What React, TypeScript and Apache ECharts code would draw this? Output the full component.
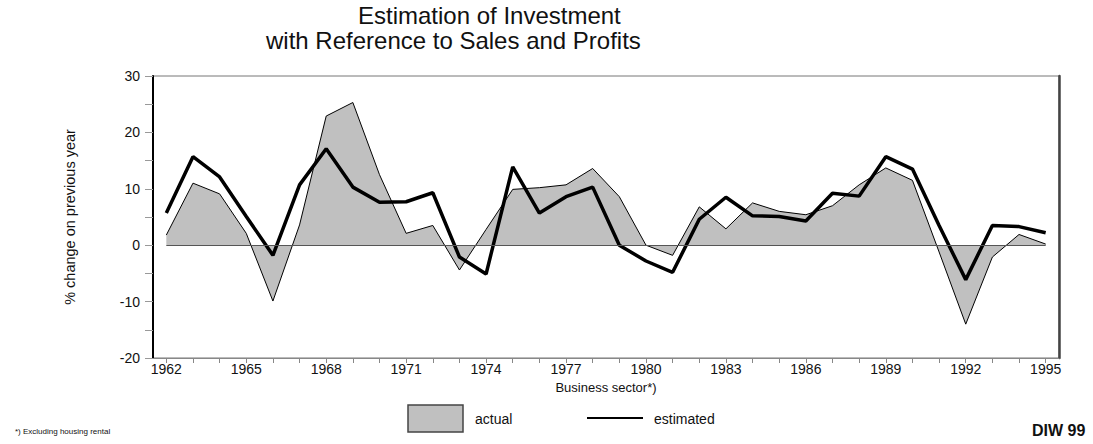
import React, { useEffect, useRef } from "react";
import * as echarts from "echarts";

const years = [
  "1962", "1963", "1964", "1965", "1966", "1967", "1968", "1969", "1970", "1971",
  "1972", "1973", "1974", "1975", "1976", "1977", "1978", "1979", "1980", "1981",
  "1982", "1983", "1984", "1985", "1986", "1987", "1988", "1989", "1990", "1991",
  "1992", "1993", "1994", "1995",
];

const actual = [
  1.8, 11.0, 9.1, 2.1, -9.9, 3.6, 22.9, 25.3, 12.5, 2.1,
  3.5, -4.4, 2.8, 9.9, 10.2, 10.7, 13.6, 8.6, 0.0, -1.8,
  6.8, 2.9, 7.5, 6.0, 5.4, 7.0, 10.7, 13.7, 11.5, -1.2,
  -14.0, -2.1, 1.9, 0.2,
];

const estimated = [
  5.7, 15.7, 12.1, 5.1, -1.8, 10.7, 17.1, 10.3, 7.6, 7.7,
  9.3, -2.1, -5.1, 13.9, 5.7, 8.6, 10.3, 0.0, -2.8, -4.8,
  4.6, 8.5, 5.2, 5.1, 4.3, 9.2, 8.7, 15.7, 13.5, 3.5,
  -6.1, 3.5, 3.3, 2.2,
];

const titleLines = ["Estimation of Investment", "with Reference to Sales and Profits"];
const seriesNames = ["actual", "estimated"];
const yAxisTitle = "% change on previous year";
const xAxisTitle = "Business sector*)";
const footnote = "*) Excluding housing rental";
const sourceMark = "DIW 99";

const FONT = "'Liberation Sans', Arial, Helvetica, sans-serif";
const TXT = "#111";

export default function App() {
  const ref = useRef<HTMLDivElement>(null);

  useEffect(() => {
    if (!ref.current) return;
    const chart = echarts.init(ref.current, null, { renderer: "svg" });
    chart.setOption({
      animation: false,
      backgroundColor: "#fff",
      textStyle: { fontFamily: FONT, color: TXT },
      grid: {
        left: 153,
        right: 34,
        top: 76,
        bottom: 86,
        show: true,
        borderColor: "#777",
        borderWidth: 1,
      },
      xAxis: {
        type: "category",
        data: years,
        boundaryGap: true,
        name: xAxisTitle,
        nameLocation: "middle",
        nameGap: 21,
        nameTextStyle: { fontFamily: FONT, fontSize: 13, color: TXT },
        axisLine: { show: true, onZero: false, lineStyle: { color: "#888", width: 1 } },
        axisTick: { show: true, interval: 0, alignWithLabel: true, length: 5, lineStyle: { color: "#888" } },
        axisLabel: { interval: 2, fontFamily: FONT, fontSize: 14, color: TXT, margin: 4 },
        splitLine: { show: false },
      },
      yAxis: [
        {
          type: "value",
          min: -20,
          max: 30,
          interval: 10,
          name: yAxisTitle,
          nameLocation: "middle",
          nameGap: 76,
          nameTextStyle: { fontFamily: FONT, fontSize: 14.5, color: TXT },
          axisLine: { show: true, lineStyle: { color: "#000", width: 2 } },
          axisTick: { show: true, length: 8, lineStyle: { color: "#999" } },
          minorTick: { show: true, splitNumber: 2, length: 8, lineStyle: { color: "#999" } },
          axisLabel: { fontFamily: FONT, fontSize: 14, color: TXT, margin: 13 },
          splitLine: { show: false },
        },
        {
          type: "value",
          position: "right",
          min: -20,
          max: 30,
          interval: 10,
          axisLine: { show: true, lineStyle: { color: "#444", width: 2.5 } },
          axisTick: { show: false },
          axisLabel: { show: false },
          splitLine: { show: false },
        },
      ],
      series: [
        {
          name: seriesNames[0],
          type: "line",
          data: actual,
          symbol: "none",
          lineStyle: { color: "#000", width: 1 },
          areaStyle: { color: "#c0c0c0", opacity: 1 },
          z: 2,
          markLine: {
            silent: true,
            symbol: "none",
            label: { show: false },
            lineStyle: { color: "#555", width: 1, type: "solid" },
            data: [[{ coord: [years[0], 0] }, { coord: [years[years.length - 1], 0] }]],
          },
        },
        {
          name: seriesNames[1],
          type: "line",
          data: estimated,
          symbol: "none",
          lineStyle: { color: "#000", width: 3.5 },
          z: 3,
        },
      ],
      graphic: [
        {
          type: "text",
          left: 358,
          top: 3,
          style: { text: titleLines[0], font: `24px ${FONT}`, fill: TXT },
        },
        {
          type: "text",
          left: 266,
          top: 28,
          style: { text: titleLines[1], font: `24px ${FONT}`, fill: TXT },
        },
        {
          type: "rect",
          shape: { x: 408, y: 405, width: 55, height: 27 },
          style: { fill: "#c0c0c0", stroke: "#444", lineWidth: 1.5 },
        },
        {
          type: "text",
          x: 475,
          y: 419,
          style: { text: seriesNames[0], font: `14px ${FONT}`, fill: TXT, verticalAlign: "middle" },
        },
        {
          type: "line",
          shape: { x1: 587, y1: 418, x2: 643, y2: 418 },
          style: { stroke: "#000", lineWidth: 2 },
        },
        {
          type: "text",
          x: 654,
          y: 419,
          style: { text: seriesNames[1], font: `14px ${FONT}`, fill: TXT, verticalAlign: "middle" },
        },
        {
          type: "text",
          x: 15,
          y: 431,
          style: { text: footnote, font: `8px ${FONT}`, fill: TXT, verticalAlign: "middle" },
        },
        {
          type: "text",
          x: 1032,
          y: 430,
          style: { text: sourceMark, font: `bold 16px ${FONT}`, fill: TXT, verticalAlign: "middle" },
        },
      ],
    });
    return () => chart.dispose();
  }, []);

  return (
    <div
      ref={ref}
      style={{ position: "fixed", left: 0, top: 0, width: 1093, height: 444, background: "#fff" }}
    />
  );
}
